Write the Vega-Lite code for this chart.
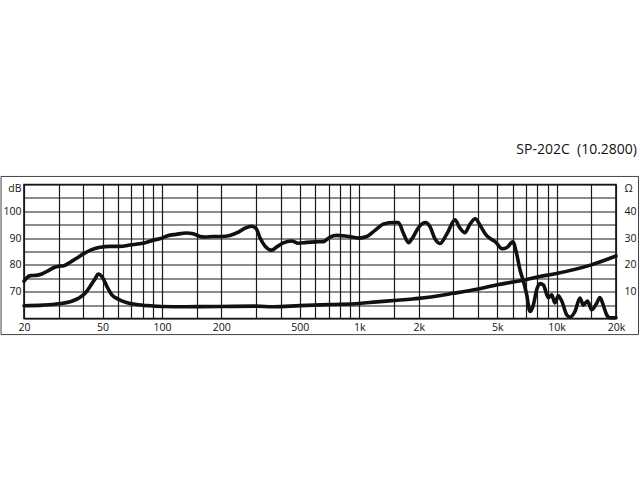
{
  "$schema": "https://vega.github.io/schema/vega-lite/v6.json",
  "description": "SP-202C frequency response and impedance",
  "autosize": {"type": "none"},
  "padding": {"left": 24, "top": 184.5, "right": 24, "bottom": 161.5},
  "width": 592,
  "height": 134,
  "title": {
    "text": "SP-202C \u00a0(10.2800)",
    "anchor": "end",
    "frame": "group",
    "baseline": "bottom",
    "offset": 5,
    "dx": 21,
    "font": "Open Sans",
    "fontSize": 14,
    "fontWeight": "normal",
    "color": "#111"
  },
  "datasets": {
    "frame": [{"f0": 15.3, "f1": 26000, "d0": 54, "d1": 113}],
    "spl": [
      {"f": 20, "db": 73.9}, {"f": 20.6, "db": 75.1}, {"f": 21.6, "db": 76}, {"f": 23, "db": 76.1},
      {"f": 24.6, "db": 76.6}, {"f": 26.6, "db": 77.9}, {"f": 28.6, "db": 79.1}, {"f": 30, "db": 79.5},
      {"f": 31.8, "db": 79.7}, {"f": 34.3, "db": 81}, {"f": 37, "db": 82.5}, {"f": 40, "db": 84.1},
      {"f": 44, "db": 85.7}, {"f": 48.6, "db": 86.6}, {"f": 54.6, "db": 86.9}, {"f": 61, "db": 86.9},
      {"f": 70, "db": 87.5}, {"f": 77, "db": 87.9}, {"f": 83, "db": 88.4}, {"f": 90, "db": 89.2},
      {"f": 100, "db": 90}, {"f": 107, "db": 90.9}, {"f": 118, "db": 91.4}, {"f": 133, "db": 91.9},
      {"f": 144, "db": 91.6}, {"f": 156, "db": 90.6}, {"f": 165, "db": 90.4}, {"f": 182, "db": 90.6},
      {"f": 200, "db": 90.6}, {"f": 221, "db": 91}, {"f": 244, "db": 92.2}, {"f": 264, "db": 93.7},
      {"f": 285, "db": 94.4}, {"f": 300, "db": 93.6}, {"f": 314, "db": 90.1}, {"f": 333, "db": 87},
      {"f": 360, "db": 85.5}, {"f": 381, "db": 86.7}, {"f": 412, "db": 88.2}, {"f": 455, "db": 88.9},
      {"f": 491, "db": 88.1}, {"f": 542, "db": 88.4}, {"f": 597, "db": 88.6}, {"f": 658, "db": 88.7},
      {"f": 711, "db": 90.4}, {"f": 769, "db": 91}, {"f": 863, "db": 90.7}, {"f": 1000, "db": 90},
      {"f": 1091, "db": 90.6}, {"f": 1202, "db": 92.9}, {"f": 1330, "db": 95.3}, {"f": 1500, "db": 95.8},
      {"f": 1578, "db": 95.8}, {"f": 1678, "db": 91.6}, {"f": 1778, "db": 88.3}, {"f": 1848, "db": 89.7},
      {"f": 2000, "db": 94}, {"f": 2166, "db": 95.8}, {"f": 2282, "db": 94.3}, {"f": 2420, "db": 89.7},
      {"f": 2560, "db": 88}, {"f": 2782, "db": 91.6}, {"f": 3055, "db": 96.8}, {"f": 3240, "db": 93.7},
      {"f": 3430, "db": 92}, {"f": 3640, "db": 95.2}, {"f": 3870, "db": 97.2}, {"f": 4100, "db": 94.7},
      {"f": 4390, "db": 91.2}, {"f": 4690, "db": 89.5}, {"f": 4880, "db": 88.7}, {"f": 5300, "db": 86},
      {"f": 5600, "db": 86.5}, {"f": 6000, "db": 88.6}, {"f": 6280, "db": 84}, {"f": 6530, "db": 78},
      {"f": 6785, "db": 74}, {"f": 7050, "db": 69}, {"f": 7330, "db": 62.6}, {"f": 7620, "db": 65},
      {"f": 7925, "db": 70.7}, {"f": 8240, "db": 73}, {"f": 8570, "db": 72.5}, {"f": 9075, "db": 67.8},
      {"f": 9440, "db": 68.8}, {"f": 9810, "db": 65.8}, {"f": 10200, "db": 68.5}, {"f": 10620, "db": 66.5},
      {"f": 11250, "db": 61.4}, {"f": 11700, "db": 60.5}, {"f": 12390, "db": 62.6}, {"f": 13140, "db": 67.6},
      {"f": 13660, "db": 65}, {"f": 14330, "db": 66.5}, {"f": 15070, "db": 63.3}, {"f": 15960, "db": 65.7},
      {"f": 16590, "db": 67.8}, {"f": 17240, "db": 65}, {"f": 17930, "db": 61.4}, {"f": 18640, "db": 60.3},
      {"f": 20000, "db": 60.3}
    ],
    "imp": [
      {"f": 20, "ohm": 4.75}, {"f": 25, "ohm": 5}, {"f": 30, "ohm": 5.5}, {"f": 34.3, "ohm": 6.25},
      {"f": 37.7, "ohm": 7.5}, {"f": 40.9, "ohm": 9.5}, {"f": 43.3, "ohm": 12}, {"f": 46.1, "ohm": 15.1},
      {"f": 47.5, "ohm": 16.6}, {"f": 49.9, "ohm": 15.4}, {"f": 52.6, "ohm": 12}, {"f": 55.6, "ohm": 8.9},
      {"f": 60, "ohm": 7.25}, {"f": 66, "ohm": 6}, {"f": 74, "ohm": 5.25}, {"f": 87, "ohm": 4.75},
      {"f": 100, "ohm": 4.5}, {"f": 133, "ohm": 4.4}, {"f": 200, "ohm": 4.5}, {"f": 300, "ohm": 4.6},
      {"f": 366, "ohm": 4.4}, {"f": 500, "ohm": 4.8}, {"f": 711, "ohm": 5.2}, {"f": 1000, "ohm": 5.6},
      {"f": 1227, "ohm": 6.2}, {"f": 1500, "ohm": 6.7}, {"f": 1800, "ohm": 7.2}, {"f": 2000, "ohm": 7.5},
      {"f": 3000, "ohm": 9.4}, {"f": 4000, "ohm": 11}, {"f": 5000, "ohm": 12.6}, {"f": 6000, "ohm": 13.6},
      {"f": 7000, "ohm": 14.5}, {"f": 8000, "ohm": 15.5}, {"f": 10000, "ohm": 16.8}, {"f": 15000, "ohm": 20},
      {"f": 20000, "ohm": 23.3}
    ]
  },
  "config": {
    "view": {"stroke": "#111", "strokeWidth": 1.6},
    "axis": {
      "labelFont": "Open Sans",
      "labelFontSize": 10.5,
      "labelColor": "#111",
      "ticks": false,
      "domain": false,
      "title": null,
      "gridColor": "#1a1a1a",
      "gridWidth": 1.2,
      "gridOpacity": 1
    }
  },
  "layer": [
    {
      "data": {"name": "frame"},
      "mark": {"type": "rect", "fill": null, "stroke": "#444", "strokeWidth": 1, "clip": false},
      "encoding": {
        "x": {"field": "f0", "type": "quantitative", "scale": {"type": "log", "domain": [20, 20000], "nice": false}},
        "x2": {"field": "f1"},
        "y": {"field": "d0", "type": "quantitative", "scale": {"domain": [60, 110], "nice": false, "zero": false}, "axis": null},
        "y2": {"field": "d1"}
      }
    },
    {
      "data": {"name": "spl"},
      "mark": {"type": "line", "color": "#111", "strokeWidth": 3.6, "interpolate": "monotone", "strokeCap": "round", "strokeJoin": "round"},
      "encoding": {
        "x": {
          "field": "f",
          "type": "quantitative",
          "scale": {"type": "log", "domain": [20, 20000], "nice": false},
          "axis": {
            "values": [20, 30, 40, 50, 60, 70, 80, 90, 100, 150, 200, 300, 400, 500, 600, 700, 800, 900, 1000, 1500, 2000, 3000, 4000, 5000, 6000, 7000, 8000, 9000, 10000, 15000, 20000],
            "labelExpr": "indexof([20, 50, 100, 200, 500, 1000, 2000, 5000, 10000, 20000], datum.value) >= 0 ? (datum.value >= 1000 ? (datum.value / 1000) + 'k' : '' + datum.value) : ''",
            "labelPadding": 4,
            "labelFlush": false,
            "labelOverlap": false,
            "grid": true
          }
        },
        "y": {
          "field": "db",
          "type": "quantitative",
          "scale": {"domain": [60, 110], "nice": false, "zero": false},
          "axis": {
            "orient": "left",
            "values": [60, 65, 70, 75, 80, 85, 90, 95, 100, 105, 110],
            "labelExpr": "datum.value == 110 ? 'dB' : (datum.value % 10 == 0 && datum.value >= 70 ? datum.label : '')",
            "labelPadding": 3,
            "labelFlush": true,
            "labelFlushOffset": 1,
            "labelOverlap": false,
            "grid": true
          }
        }
      }
    },
    {
      "data": {"name": "imp"},
      "mark": {"type": "line", "color": "#111", "strokeWidth": 3.6, "interpolate": "monotone", "strokeCap": "round", "strokeJoin": "round"},
      "encoding": {
        "x": {"field": "f", "type": "quantitative", "scale": {"type": "log", "domain": [20, 20000], "nice": false}},
        "y": {
          "field": "ohm",
          "type": "quantitative",
          "scale": {"domain": [0, 50], "nice": false},
          "axis": {
            "orient": "right",
            "values": [0, 10, 20, 30, 40, 50],
            "labelExpr": "datum.value == 50 ? 'Ω' : (datum.value == 0 ? '' : datum.label)",
            "labelPadding": 8,
            "labelFlush": true,
            "labelFlushOffset": 1,
            "labelOverlap": false,
            "grid": false
          }
        }
      }
    }
  ],
  "resolve": {"scale": {"y": "independent"}}
}
